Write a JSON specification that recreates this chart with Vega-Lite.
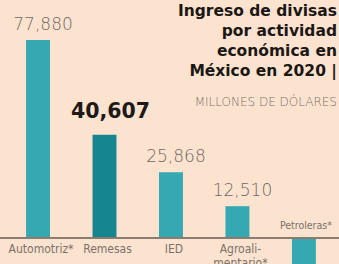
{
  "$schema": "https://vega.github.io/schema/vega-lite/v6.json",
  "width": 339,
  "height": 264,
  "padding": 0,
  "autosize": {"type": "none"},
  "background": "#FCE3CF",
  "view": {"stroke": null},
  "config": {"font": "DejaVu Sans"},
  "data": {
    "values": [
      {"cat": "Automotriz*", "label": "Automotriz*", "value": 77880, "txt": "77,880", "hl": "no"},
      {"cat": "Remesas", "label": "Remesas", "value": 40607, "txt": "40,607", "hl": "yes"},
      {"cat": "IED", "label": "IED", "value": 25868, "txt": "25,868", "hl": "no"},
      {"cat": "Agroalimentario*", "label": "Agroali-\nmentario*", "value": 12510, "txt": "12,510", "hl": "no"},
      {"cat": "Petroleras*", "label": "Petroleras*", "value": -12000, "txt": "", "hl": "no"}
    ]
  },
  "encoding": {
    "x": {
      "field": "cat", "type": "nominal", "sort": null, "axis": null,
      "scale": {"paddingInner": 0.64, "paddingOuter": 0.37, "align": 0.53}
    },
    "y": {"field": "value", "type": "quantitative", "axis": null,
          "scale": {"domain": [-10227, 93613], "nice": false, "zero": false}}
  },
  "layer": [
    {
      "mark": {"type": "bar", "clip": true},
      "encoding": {
        "color": {"field": "hl", "type": "nominal", "legend": null,
                  "scale": {"domain": ["no", "yes"], "range": ["#36A8B1", "#15858F"]}}
      }
    },
    {
      "mark": {"type": "rule", "color": "#8A7A70", "strokeWidth": 1},
      "encoding": {"y": {"datum": 0, "type": "quantitative"}, "x": null}
    },
    {
      "transform": [{"filter": "datum.hl == 'no' && datum.value > 0"}],
      "mark": {"type": "text", "baseline": "alphabetic", "dy": -10, "dx": 5, "fontSize": 17, "fontWeight": 200, "color": "#6F6862"},
      "encoding": {
        "text": {"field": "txt"}
      }
    },
    {
      "transform": [{"filter": "datum.hl == 'yes'"}],
      "mark": {"type": "text", "baseline": "alphabetic", "dy": -17, "dx": 6, "fontSize": 20.5, "fontWeight": "bold", "color": "#1F1A17"},
      "encoding": {
        "text": {"field": "txt"}
      }
    },
    {
      "transform": [{"filter": "datum.value > 0"}],
      "mark": {"type": "text", "baseline": "top", "dy": 6, "dx": 3, "fontSize": 12, "font": "DejaVu Sans Condensed", "color": "#7A716A", "lineBreak": "\n", "lineHeight": 14},
      "encoding": {
        "y": {"datum": 0, "type": "quantitative"},
        "text": {"field": "label"}
      }
    },
    {
      "transform": [{"filter": "datum.value < 0"}],
      "mark": {"type": "text", "baseline": "alphabetic", "dy": -9, "dx": 2, "fontSize": 10.5, "font": "DejaVu Sans Condensed", "color": "#7A716A"},
      "encoding": {
        "y": {"datum": 0, "type": "quantitative"},
        "text": {"field": "label"}
      }
    },
    {
      "data": {"values": [
        {"t": "Ingreso de divisas\npor actividad\neconómica en\nMéxico en 2020 |"}
      ]},
      "mark": {"type": "text", "align": "right", "baseline": "alphabetic", "fontSize": 15.5, "fontWeight": "bold", "color": "#1B1714", "x": 337, "y": 16, "lineBreak": "\n", "lineHeight": 20},
      "encoding": {
        "x": null,
        "y": null,
        "text": {"field": "t"}
      }
    },
    {
      "data": {"values": [{"t": "MILLONES DE DÓLARES"}]},
      "mark": {"type": "text", "align": "right", "baseline": "alphabetic", "fontSize": 12, "fontWeight": 200, "color": "#7A716A", "x": 337, "y": 106},
      "encoding": {"x": null, "y": null, "text": {"field": "t"}}
    }
  ]
}
